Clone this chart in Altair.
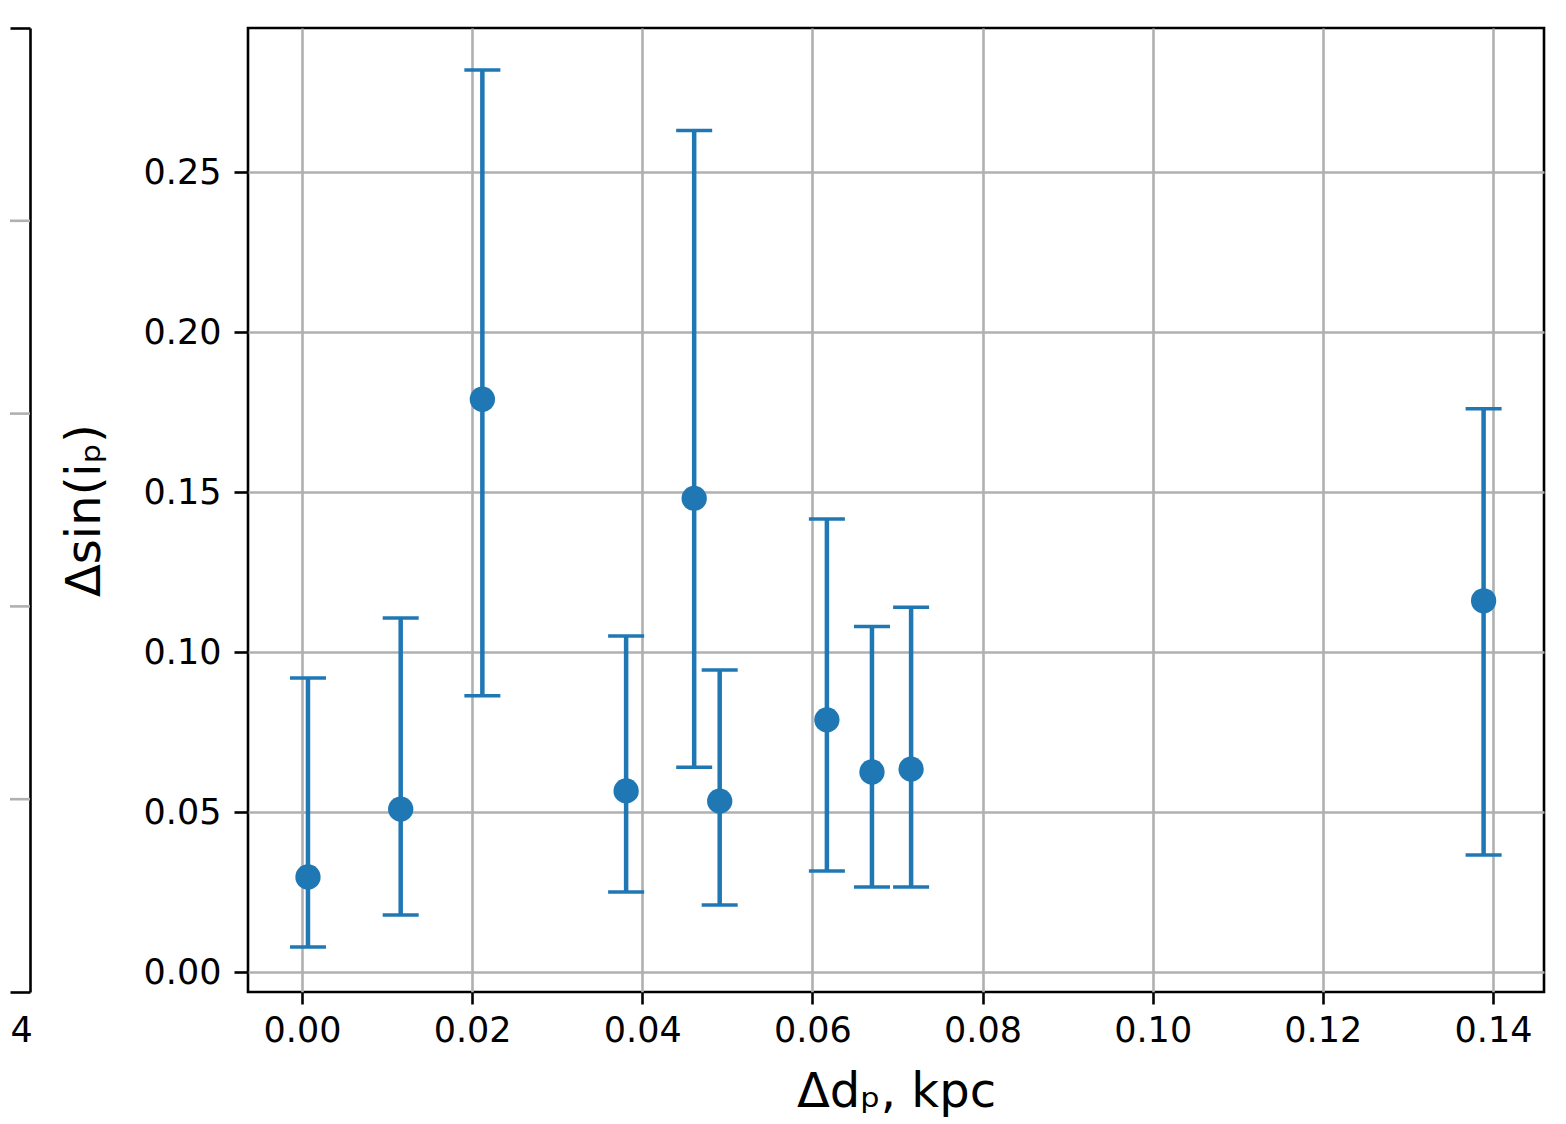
import altair as alt
import pandas as pd

# Data
dp = [0.0007, 0.0116, 0.0212, 0.0381, 0.0461, 0.0491, 0.0617, 0.0670, 0.0716, 0.1389]
dsin = [0.0297, 0.0509, 0.179, 0.0566, 0.148, 0.0534, 0.0788, 0.0625, 0.0634, 0.116]
err_lo = [0.0078, 0.0178, 0.0863, 0.0250, 0.0640, 0.0209, 0.0316, 0.0266, 0.0266, 0.0366]
err_hi = [0.0919, 0.1106, 0.2819, 0.1050, 0.2630, 0.0944, 0.1416, 0.1080, 0.1140, 0.1760]

x_ticks = [0.0, 0.02, 0.04, 0.06, 0.08, 0.10, 0.12, 0.14]
y_ticks = [0.0, 0.05, 0.10, 0.15, 0.20, 0.25]

# neighbouring (cut-off) panel: its gridlines
left_grid = [1, 2, 3, 4]

df = pd.DataFrame({"dp": dp, "dsin": dsin, "lo": err_lo, "hi": err_hi})
ldf = pd.DataFrame({"g": left_grid, "x0": [0] * 4, "x1": [1] * 4})

BLUE = "#1f77b4"
GRID = "#b0b0b0"
FONT = "DejaVu Sans"
LW = 2.6
LABEL_FS = 35
TITLE_FS = 48

xscale = alt.Scale(domain=[-0.00635, 0.146], nice=False, zero=False)
yscale = alt.Scale(domain=[-0.00625, 0.295], nice=False, zero=False)

xaxis = alt.Axis(values=x_ticks, format=".2f", grid=True, gridColor=GRID, gridWidth=LW,
                 domain=False, tickColor="black", tickWidth=LW, tickSize=12,
                 labelFontSize=LABEL_FS, labelColor="black", labelPadding=9,
                 labelFont=FONT, title="Δd\u209a, kpc", titleFont=FONT,
                 titleFontSize=TITLE_FS, titleFontWeight="normal", titleColor="black",
                 titlePadding=20, labelFlush=False)
yaxis = alt.Axis(values=y_ticks, format=".2f", grid=True, gridColor=GRID, gridWidth=LW,
                 domain=False, tickColor="black", tickWidth=LW, tickSize=14,
                 labelFontSize=LABEL_FS, labelColor="black", labelPadding=13,
                 labelFont=FONT, title="Δsin(i\u209a)", titleFont=FONT,
                 titleFontSize=TITLE_FS, titleFontWeight="normal", titleColor="black",
                 titlePadding=34, labelFlush=False)

base = alt.Chart(df)
bars = base.mark_rule(color=BLUE, strokeWidth=4.5).encode(
    x=alt.X("dp:Q", scale=xscale, axis=xaxis),
    y=alt.Y("lo:Q", scale=yscale, axis=yaxis),
    y2="hi:Q",
)
cap_lo = base.mark_tick(color=BLUE, orient="horizontal", size=36, thickness=3.5, opacity=1).encode(
    x="dp:Q", y="lo:Q")
cap_hi = base.mark_tick(color=BLUE, orient="horizontal", size=36, thickness=3.5, opacity=1).encode(
    x="dp:Q", y="hi:Q")
pts = base.mark_circle(color=BLUE, size=640, opacity=1).encode(x="dp:Q", y="dsin:Q")

main = alt.layer(bars, cap_lo, cap_hi, pts).properties(
    width=1296, height=964,
    view=alt.ViewConfig(stroke="black", strokeWidth=LW),
)

left = alt.Chart(ldf).mark_rule(color=GRID, strokeWidth=LW).encode(
    x=alt.X("x0:Q", scale=alt.Scale(domain=[0, 1], nice=False),
            axis=alt.Axis(values=[0], labelExpr="'4'", labelAlign="left",
                          grid=False, domain=False, tickColor="transparent",
                          tickSize=12, labelPadding=9, labelFontSize=LABEL_FS,
                          labelColor="black", labelFont=FONT, title=None)),
    x2="x1:Q",
    y=alt.Y("g:Q", scale=alt.Scale(domain=[0, 5], nice=False),
            axis=alt.Axis(orient="right", values=[0, 5], grid=True, gridColor="black",
                          gridWidth=LW, domain=True, domainColor="black",
                          domainWidth=LW, ticks=False, labels=False, title=None)),
).properties(width=20, height=964, view=alt.ViewConfig(stroke="transparent"))

chart = alt.hconcat(left, main, spacing=26).properties(
    padding={"left": 0, "top": 18, "right": 5, "bottom": 0},
).configure(font=FONT)

chart.save("out.html", embed_options={"renderer": "svg", "actions": False})
